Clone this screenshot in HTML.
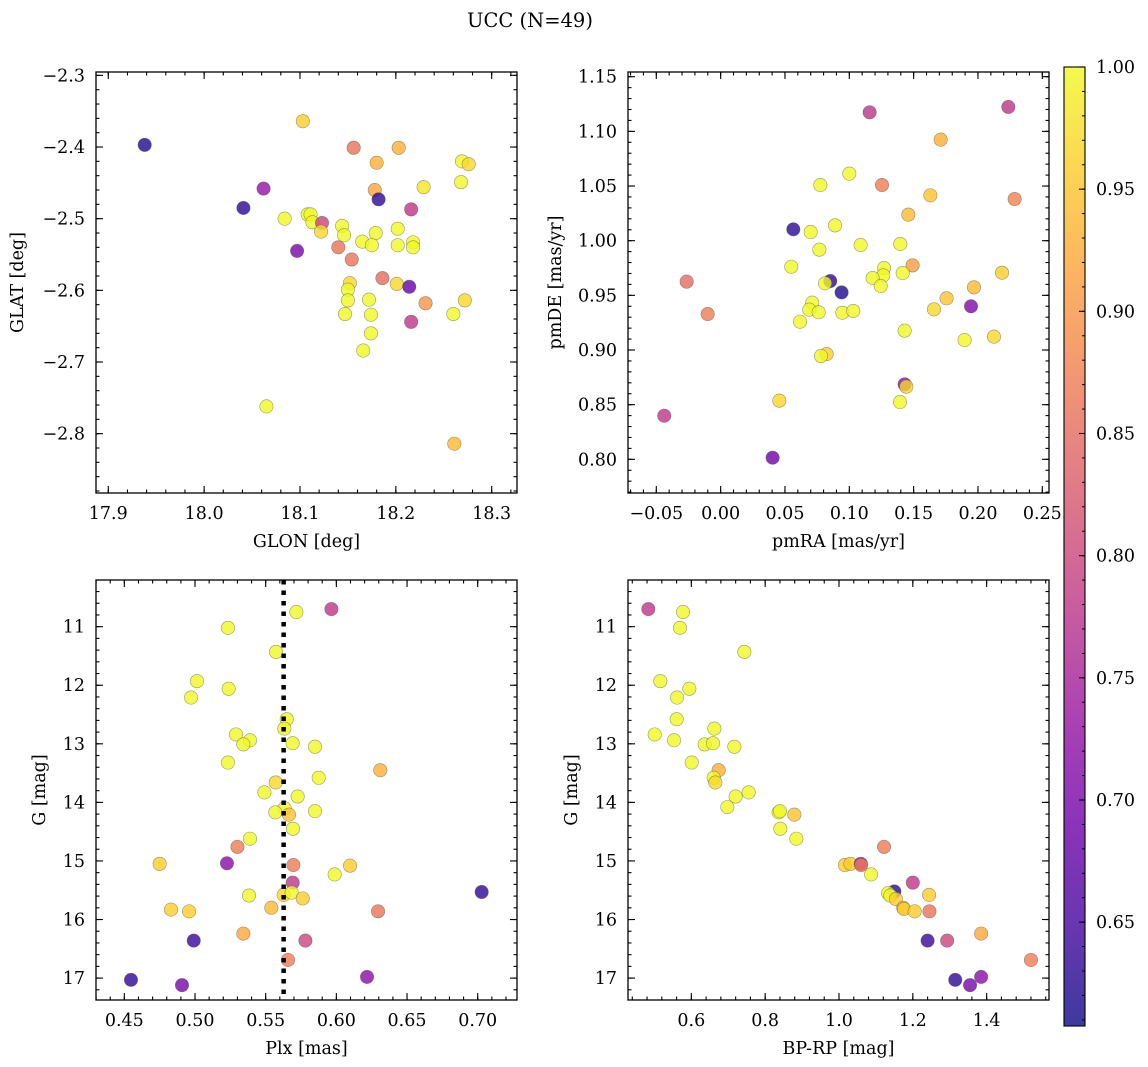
<!DOCTYPE html>
<html><head><meta charset="utf-8"><style>
html,body{margin:0;padding:0;background:#fff;}
svg{display:block;font-family:"DejaVu Serif","Liberation Serif",serif;}
</style></head><body>
<svg id="fig" width="1148" height="1067" viewBox="0 0 1148 1067" xmlns="http://www.w3.org/2000/svg">
<defs>
<linearGradient id="plasma" x1="0" y1="1" x2="0" y2="0">
<stop offset="0" stop-color="#0d0887"/><stop offset="0.1" stop-color="#41049d"/><stop offset="0.2" stop-color="#6a00a8"/><stop offset="0.3" stop-color="#8f0da4"/><stop offset="0.4" stop-color="#b12a90"/><stop offset="0.5" stop-color="#cc4778"/><stop offset="0.6" stop-color="#e16462"/><stop offset="0.7" stop-color="#f2844b"/><stop offset="0.8" stop-color="#fca636"/><stop offset="0.9" stop-color="#fcce25"/><stop offset="1" stop-color="#f0f921"/>
</linearGradient>
</defs>
<text x="530" y="27" font-size="19.5" text-anchor="middle">UCC (N=49)</text>
</svg>
<script>
// ---- data ----
const p1Glon=[17.938,18.103,18.156,18.203,18.180,18.269,18.276,18.268,18.062,18.229,18.178,18.182,18.041,18.216,18.084,18.108,18.111,18.113,18.123,18.122,18.144,18.146,18.202,18.179,18.165,18.175,18.202,18.218,18.218,18.140,18.097,18.154,18.186,18.152,18.150,18.201,18.214,18.150,18.172,18.231,18.272,18.147,18.174,18.260,18.216,18.174,18.166,18.065,18.261];
const p1Glat=[-2.397,-2.364,-2.401,-2.401,-2.422,-2.420,-2.424,-2.449,-2.458,-2.456,-2.460,-2.473,-2.485,-2.487,-2.500,-2.494,-2.494,-2.505,-2.506,-2.518,-2.510,-2.523,-2.514,-2.520,-2.532,-2.537,-2.537,-2.533,-2.540,-2.540,-2.545,-2.557,-2.583,-2.590,-2.599,-2.591,-2.595,-2.614,-2.613,-2.618,-2.614,-2.633,-2.634,-2.633,-2.644,-2.660,-2.684,-2.762,-2.814];
const p1Prob=[0.62,0.96,0.86,0.93,0.93,1.0,0.97,1.0,0.73,0.98,0.92,0.63,0.63,0.78,1.0,1.0,1.0,1.0,0.80,0.97,1.0,1.0,1.0,1.0,1.0,1.0,1.0,1.0,1.0,0.86,0.70,0.86,0.85,0.97,1.0,0.97,0.68,1.0,1.0,0.90,0.97,1.0,1.0,1.0,0.78,1.0,1.0,1.0,0.94];

const p2PmRA=[0.1158,0.2236,0.171,0.100,0.0775,0.1254,0.163,0.2285,0.1459,0.0565,0.070,0.0889,0.1088,0.1396,0.0767,0.0549,0.1492,0.127,0.1264,0.1415,0.1181,0.1244,0.2187,-0.0264,0.0852,0.0811,0.094,0.1969,0.1756,0.1946,0.0712,0.0689,0.0762,0.0946,0.1031,0.1658,-0.0101,0.0617,0.143,0.1896,0.2124,0.0824,0.078,0.143,0.1443,0.1394,0.0456,-0.0438,0.0404];
const p2PmDE=[1.1174,1.1223,1.0924,1.0613,1.0509,1.0509,1.0415,1.0381,1.0238,1.0104,1.0079,1.014,0.996,0.997,0.9918,0.9762,0.9774,0.975,0.9683,0.9704,0.9659,0.9585,0.9707,0.9625,0.9631,0.961,0.9527,0.9573,0.9473,0.940,0.9433,0.9369,0.9345,0.9341,0.9357,0.9372,0.9329,0.9259,0.9177,0.9091,0.9122,0.8963,0.8945,0.8686,0.8665,0.8524,0.8537,0.8399,0.8015];
const p2Prob=[0.78,0.78,0.93,1.0,1.0,0.87,0.95,0.88,0.94,0.63,1.0,1.0,1.0,1.0,1.0,1.0,0.91,1.0,1.0,1.0,1.0,1.0,0.96,0.85,0.63,1.0,0.62,0.94,0.95,0.71,1.0,1.0,1.0,1.0,1.0,0.97,0.87,1.0,1.0,1.0,0.97,0.96,1.0,0.72,0.97,1.0,0.97,0.78,0.69];

const p3Plx=[0.5965,0.5717,0.5233,0.5573,0.5014,0.5238,0.4972,0.5649,0.5632,0.529,0.5389,0.5342,0.5691,0.5849,0.5233,0.6311,0.5875,0.5571,0.5491,0.5726,0.5634,0.5665,0.5568,0.5849,0.5693,0.5389,0.530,0.475,0.5226,0.5696,0.6097,0.5988,0.5691,0.7028,0.5382,0.5627,0.5684,0.5762,0.554,0.483,0.4958,0.6295,0.5342,0.4991,0.5781,0.5658,0.4547,0.4908,0.6217];
const p3G=[10.70,10.75,11.02,11.43,11.93,12.06,12.21,12.58,12.74,12.84,12.94,13.01,12.99,13.05,13.32,13.45,13.58,13.66,13.83,13.90,14.10,14.21,14.17,14.15,14.45,14.62,14.76,15.05,15.04,15.07,15.08,15.23,15.37,15.53,15.59,15.58,15.54,15.64,15.80,15.83,15.86,15.86,16.24,16.36,16.36,16.69,17.03,17.12,16.98];
const p3Prob=[0.78,1.0,1.0,1.0,1.0,1.0,1.0,1.0,1.0,1.0,1.0,1.0,1.0,1.0,1.0,0.93,1.0,0.97,1.0,1.0,1.0,0.95,1.0,1.0,1.0,1.0,0.87,0.96,0.72,0.87,0.96,1.0,0.78,0.63,1.0,0.97,1.0,0.96,0.94,0.96,0.96,0.86,0.92,0.64,0.80,0.87,0.63,0.70,0.72];
const plxMedian=[0.5627];

const p4BpRp=[0.4835,0.5774,0.5693,0.7436,0.516,0.5946,0.5612,0.5603,0.6623,0.5007,0.553,0.6361,0.6587,0.7165,0.6009,0.674,0.6605,0.665,0.7553,0.720,0.6975,0.8366,0.840,0.879,0.841,0.8844,1.122,1.016,1.031,1.059,1.060,1.087,1.200,1.150,1.133,1.139,1.154,1.244,1.174,1.176,1.205,1.245,1.385,1.240,1.293,1.520,1.315,1.355,1.385];
const p4G=[10.70,10.75,11.02,11.43,11.93,12.06,12.21,12.58,12.74,12.84,12.94,13.01,12.99,13.05,13.32,13.45,13.58,13.66,13.83,13.90,14.08,14.17,14.15,14.21,14.45,14.62,14.76,15.07,15.05,15.05,15.07,15.23,15.37,15.52,15.55,15.59,15.65,15.58,15.80,15.82,15.86,15.86,16.24,16.36,16.36,16.69,17.03,17.12,16.98];
const p4Prob=[0.78,1.0,1.0,1.0,1.0,1.0,1.0,1.0,1.0,1.0,1.0,1.0,1.0,1.0,1.0,0.93,1.0,0.97,1.0,1.0,1.0,1.0,1.0,0.95,1.0,1.0,0.87,0.96,0.96,0.72,0.87,1.0,0.78,0.63,1.0,1.0,0.96,0.96,0.94,0.96,0.96,0.86,0.92,0.64,0.80,0.87,0.63,0.70,0.72];

const cbTicks=[0.65,0.70,0.75,0.80,0.85,0.90,0.95,1.00];
const cbRange=[0.6075,1.0];

// ---- helpers ----
const NS='http://www.w3.org/2000/svg';
const svg=document.getElementById('fig');
function mk(tag,attrs,parent){const e=document.createElementNS(NS,tag);for(const k in attrs)e.setAttribute(k,attrs[k]);(parent||svg).appendChild(e);return e;}
const stops=[[13,8,135],[65,4,157],[106,0,168],[143,13,164],[177,42,144],[204,71,120],[225,100,98],[242,132,75],[252,166,54],[252,206,37],[240,249,33]];
function plasma(v){const t=Math.max(0,Math.min(1,(v-cbRange[0])/(cbRange[1]-cbRange[0])))*10;const i=Math.min(9,Math.floor(t)),f=t-i;const a=stops[i],b=stops[i+1];return 'rgb('+[0,1,2].map(k=>Math.round(a[k]+(b[k]-a[k])*f)).join(',')+')';}
function fmt(v,d){const s=Math.abs(v).toFixed(d);return (v<-1e-9?'\u2212':'')+s;}
const FS=17.5;

function panel(cfg){
  const g=mk('g',{});
  
  
  const {x0,y0,w,h,xr,yr}=cfg;
  const sx=v=>x0+(v-xr[0])/(xr[1]-xr[0])*w;
  const sy=cfg.invert?(v=>y0+(v-yr[0])/(yr[1]-yr[0])*h):(v=>y0+h-(v-yr[0])/(yr[1]-yr[0])*h);
  const tk=mk('g',{stroke:'#000','stroke-width':1.1},g);
  
  
  const eps=1e-7;
  let s=Math.ceil((xr[0])/cfg.xmin-eps)*cfg.xmin;
  for(let v=s;v<=xr[1]+eps;v+=cfg.xmin){const X=sx(v);mk('line',{x1:X,x2:X,y1:y0+h,y2:y0+h-3.5},tk);mk('line',{x1:X,x2:X,y1:y0,y2:y0+3.5},tk);}
  s=Math.ceil((yr[0])/cfg.ymin-eps)*cfg.ymin;
  for(let v=s;v<=yr[1]+eps;v+=cfg.ymin){const Y=sy(v);mk('line',{x1:x0,x2:x0+3.5,y1:Y,y2:Y},tk);mk('line',{x1:x0+w,x2:x0+w-3.5,y1:Y,y2:Y},tk);}
  cfg.xt.forEach(v=>{const X=sx(v);mk('line',{x1:X,x2:X,y1:y0+h,y2:y0+h-7},tk);mk('line',{x1:X,x2:X,y1:y0,y2:y0+7},tk);
    const t=mk('text',{x:X,y:y0+h+26,'font-size':FS,'text-anchor':'middle'},g);t.textContent=fmt(v,cfg.xd);
    
    });
  cfg.yt.forEach(v=>{const Y=sy(v);mk('line',{x1:x0,x2:x0+7,y1:Y,y2:Y},tk);mk('line',{x1:x0+w,x2:x0+w-7,y1:Y,y2:Y},tk);
    const t=mk('text',{x:x0-11,y:Y+6,'font-size':FS,'text-anchor':'end'},g);t.textContent=fmt(v,cfg.yd);
    
    });
  const pts=mk('g',{},g);
  
  
  cfg.xs.forEach((v,i)=>{const c=mk('circle',{cx:sx(v),cy:sy(cfg.ys[i]),r:6.7,fill:plasma(cfg.cs[i]),'fill-opacity':0.8,stroke:'#555','stroke-opacity':0.6,'stroke-width':0.6},pts);
    
    });
  if(cfg.vline){cfg.vline.forEach(v=>{const l=mk('line',{x1:sx(v),x2:sx(v),y1:y0,y2:y0+h,stroke:'#000','stroke-width':4.5,'stroke-dasharray':'4.5 6'},g);
    
    });}
  const fr=mk('rect',{x:x0,y:y0,width:w,height:h,fill:'none',stroke:'#000','stroke-width':1.3},g);
  
  
  const xl=mk('text',{x:x0+w/2,y:y0+h+54,'font-size':FS,'text-anchor':'middle'},g);xl.textContent=cfg.xl;
  
  
  const yx=cfg.ylx, yy=y0+h/2;
  const yl=mk('text',{x:yx,y:yy,'font-size':FS,'text-anchor':'middle',transform:'rotate(-90 '+yx+' '+yy+')'},g);yl.textContent=cfg.yl;
  
  
}

panel({name:'glon-glat-panel',x0:96,y0:72,w:421,h:421,xr:[17.8872,18.3264],yr:[-2.8828,-2.2953],xt:[17.9,18.0,18.1,18.2,18.3],yt:[-2.8,-2.7,-2.6,-2.5,-2.4,-2.3],xmin:0.02,ymin:0.02,xd:1,yd:1,xs:p1Glon,ys:p1Glat,cs:p1Prob,xl:'GLON [deg]',yl:'GLAT [deg]',ylx:23});
panel({name:'pm-panel',x0:628,y0:72,w:421,h:421,xr:[-0.072,0.2552],yr:[0.7692,1.1543],xt:[-0.05,0,0.05,0.10,0.15,0.20,0.25],yt:[0.80,0.85,0.90,0.95,1.00,1.05,1.10,1.15],xmin:0.01,ymin:0.01,xd:2,yd:2,xs:p2PmRA,ys:p2PmDE,cs:p2Prob,xl:'pmRA [mas/yr]',yl:'pmDE [mas/yr]',ylx:561});
panel({name:'plx-g-panel',x0:96,y0:580,w:421,h:420,xr:[0.42995,0.7278],yr:[10.203,17.374],invert:true,xt:[0.45,0.50,0.55,0.60,0.65,0.70],yt:[11,12,13,14,15,16,17],xmin:0.01,ymin:0.2,xd:2,yd:0,xs:p3Plx,ys:p3G,cs:p3Prob,vline:plxMedian,xl:'Plx [mas]',yl:'G [mag]',ylx:45});
panel({name:'cmd-panel',x0:628,y0:580,w:421,h:420,xr:[0.4284,1.5689],yr:[10.203,17.374],invert:true,xt:[0.6,0.8,1.0,1.2,1.4],yt:[11,12,13,14,15,16,17],xmin:0.04,ymin:0.2,xd:1,yd:0,xs:p4BpRp,ys:p4G,cs:p4Prob,xl:'BP-RP [mag]',yl:'G [mag]',ylx:577});

// colorbar
const cb=mk('g',{});


const cbx=1064,cby=67,cbw=21,cbh=959;
mk('rect',{x:cbx,y:cby,width:cbw,height:cbh,fill:'url(#plasma)','fill-opacity':0.8},cb);
mk('rect',{x:cbx,y:cby,width:cbw,height:cbh,fill:'none',stroke:'#000','stroke-width':1.1},cb);
const cy=v=>cby+cbh-(v-cbRange[0])/(cbRange[1]-cbRange[0])*cbh;
for(let v=0.61;v<=1.0001;v+=0.01){const Y=cy(v);mk('line',{x1:cbx+cbw,x2:cbx+cbw-3,y1:Y,y2:Y,stroke:'#000','stroke-width':1},cb);}
cbTicks.forEach(v=>{const Y=cy(v);mk('line',{x1:cbx+cbw,x2:cbx+cbw-6,y1:Y,y2:Y,stroke:'#000','stroke-width':1.1},cb);
  const t=mk('text',{x:cbx+cbw+11,y:Y+6,'font-size':FS},cb);t.textContent=v.toFixed(2);
  
  });
</script>
</body></html>
